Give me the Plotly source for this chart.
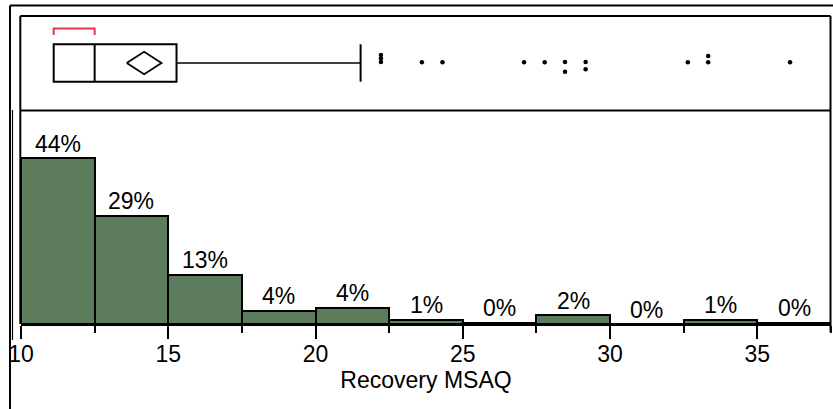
import plotly.graph_objects as go

# Histogram of Recovery MSAQ (bins of width 2.5, percent of patients)
bin_starts = [10, 12.5, 15, 17.5, 20, 22.5, 25, 27.5, 30, 32.5, 35]
bin_width = 2.5
percents = [44.3, 28.9, 13.2, 3.6, 4.4, 1.2, 0.4, 2.4, 0.0, 1.2, 0.4]

# Outlier box plot summary
q1 = 11.11
median = 12.50
q3 = 15.28
whisker_hi = 21.53
mean = 14.18
mean_ci = 0.59              # half-width of the 95% CI of the mean
shortest_half = (11.11, 12.50)

# Points beyond the upper fence and their vertical stacking offsets
outliers = [22.22, 22.22, 22.22, 23.61, 24.31, 27.08, 27.78,
            28.47, 28.47, 29.17, 29.17, 32.64, 33.33, 33.33, 36.11]
stack_offsets = [1, 4.5, 8, 0.7, 0.7, 0.7, 0.7,
                 1, -8.7, 1, -6.3, 0.7, 0.7, 7, 0.7]

x_ticks = [10, 15, 20, 25, 30, 35]

W, H = 833, 409
FONT = "Liberation Sans, Arial, Helvetica, sans-serif"
GREEN = "#5d7b5d"
RED = "#e8344e"


def px(x):
    return x / W


def py(y):
    return 1 - y / H


centers = [s + bin_width / 2 for s in bin_starts]

fig = go.Figure()
fig.add_trace(go.Bar(
    x=centers, y=percents, width=bin_width,
    marker=dict(color=GREEN, line=dict(color="black", width=2)),
    hoverinfo="skip",
))

# percent labels above each bin
annotations = [
    dict(x=c, y=p, xref="x", yref="y", text=f"{p:.0f}%", showarrow=False,
         xanchor="center", yanchor="bottom", borderpad=0, yshift=0.5,
         font=dict(family=FONT, size=23, color="black"))
    for c, p in zip(centers, percents)
]

# outlier points in the box-plot panel
fig.add_trace(go.Scatter(
    x=outliers, y=stack_offsets, xaxis="x", yaxis="y2", mode="markers",
    marker=dict(color="black", size=4.5), hoverinfo="skip",
))

# mean diamond
fig.add_trace(go.Scatter(
    x=[mean - mean_ci, mean, mean + mean_ci, mean, mean - mean_ci],
    y=[0, 11.3, 0, -11.3, 0], xaxis="x", yaxis="y2", mode="lines",
    line=dict(color="black", width=1.8), hoverinfo="skip",
))

BOX_H = 18.7
shapes = []
box_line = dict(color="black", width=2)
# box
shapes.append(dict(type="rect", xref="x", yref="y2", x0=q1, x1=q3,
                   y0=-BOX_H, y1=BOX_H, line=box_line))
# median
shapes.append(dict(type="line", xref="x", yref="y2", x0=median, x1=median,
                   y0=-BOX_H, y1=BOX_H, line=box_line))
# upper whisker and cap
shapes.append(dict(type="line", xref="x", yref="y2", x0=q3, x1=whisker_hi,
                   y0=0, y1=0, line=dict(color="black", width=1.5)))
shapes.append(dict(type="line", xref="x", yref="y2", x0=whisker_hi,
                   x1=whisker_hi, y0=-BOX_H, y1=BOX_H, line=box_line))
# shortest-half bracket
sh0, sh1 = shortest_half
shapes.append(dict(type="path", xref="x", yref="y2",
                   path=f"M {sh0},28 L {sh0},34.5 L {sh1},34.5 L {sh1},28",
                   line=dict(color=RED, width=2)))

# frame lines
frame = dict(color="black", width=2)
shapes += [
    dict(type="line", xref="paper", yref="paper", x0=px(10), x1=px(833),
         y0=py(5.5), y1=py(5.5), line=frame),
    dict(type="line", xref="paper", yref="paper", x0=px(10), x1=px(10),
         y0=py(5.5), y1=py(409), line=frame),
    dict(type="line", xref="paper", yref="paper", x0=px(12.5), x1=px(12.5),
         y0=py(110), y1=py(340), line=dict(color="black", width=1.2)),
    dict(type="line", xref="paper", yref="paper", x0=px(20.3), x1=px(830.5),
         y0=py(16), y1=py(16), line=frame),
    dict(type="line", xref="paper", yref="paper", x0=px(20.3), x1=px(20.3),
         y0=py(16), y1=py(324), line=frame),
    dict(type="line", xref="paper", yref="paper", x0=px(830.5), x1=px(830.5),
         y0=py(16), y1=py(332), line=frame),
    dict(type="line", xref="paper", yref="paper", x0=px(20.3), x1=px(830.5),
         y0=py(110.5), y1=py(110.5), line=frame),
]

fig.update_layout(
    template="none",
    width=W, height=H, margin=dict(l=0, r=0, t=0, b=0, autoexpand=False),
    paper_bgcolor="white", plot_bgcolor="white",
    showlegend=False, bargap=0,
    font=dict(family=FONT, size=23, color="black"),
    shapes=shapes, annotations=annotations,
    xaxis=dict(
        domain=[px(21), px(831)], range=[10, 37.5], anchor="y",
        automargin=False,
        tickvals=x_ticks, ticks="outside", ticklen=13, tickwidth=2,
        tickcolor="black", showline=True, linewidth=2, linecolor="black",
        showgrid=False, zeroline=False, ticklabelstandoff=-5,
        tickfont=dict(family=FONT, size=23, color="black"),
        minor=dict(dtick=2.5, tick0=10, ticks="outside", ticklen=7,
                   tickwidth=2, tickcolor="black", showgrid=False),
        title=dict(text="Recovery MSAQ", standoff=0,
                   font=dict(family=FONT, size=23, color="black")),
    ),
    yaxis=dict(
        domain=[py(324), py(110)], range=[0, (324 - 110) / 3.74],
        automargin=False,
        visible=False, showgrid=False, zeroline=False,
    ),
    yaxis2=dict(
        domain=[py(110), py(16)], range=[-47, 47], anchor="x",
        automargin=False,
        visible=False, showgrid=False, zeroline=False,
    ),
)

fig.write_html("out.html")
